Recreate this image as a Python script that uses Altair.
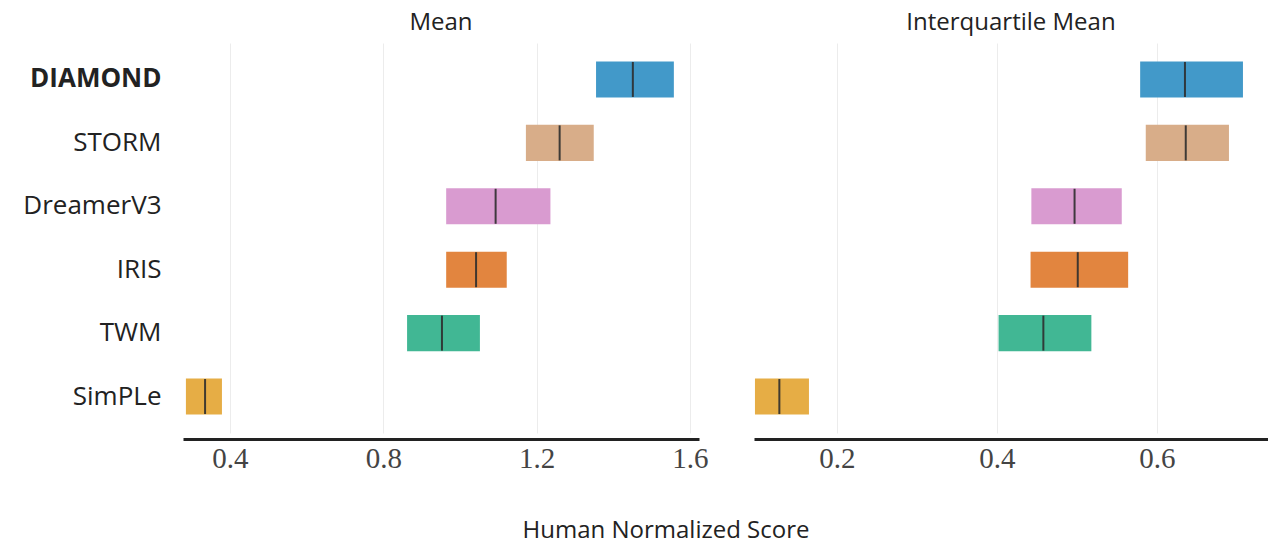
import altair as alt
import pandas as pd

# Methods, top to bottom
methods = ["DIAMOND", "STORM", "DreamerV3", "IRIS", "TWM", "SimPLe"]
colors = ["#4299c9", "#d8ad89", "#d99bd0", "#e2853f", "#41b794", "#e6ad45"]

# Mean human normalized score: 95% CI bounds and point estimate
mean_low = [1.355, 1.172, 0.964, 0.964, 0.862, 0.285]
mean_high = [1.558, 1.349, 1.236, 1.122, 1.052, 0.379]
mean_point = [1.451, 1.260, 1.093, 1.042, 0.953, 0.335]

# Interquartile mean: 95% CI bounds and point estimate
iqm_low = [0.579, 0.586, 0.443, 0.442, 0.402, 0.0975]
iqm_high = [0.7075, 0.690, 0.556, 0.564, 0.518, 0.165]
iqm_point = [0.635, 0.636, 0.497, 0.501, 0.458, 0.128]

mean_ticks = [0.4, 0.8, 1.2, 1.6]
iqm_ticks = [0.2, 0.4, 0.6]

df = pd.DataFrame({
    "method": methods,
    "mean_low": mean_low, "mean_high": mean_high, "mean_point": mean_point,
    "iqm_low": iqm_low, "iqm_high": iqm_high, "iqm_point": iqm_point,
})

SANS = "Open Sans"
SERIF = "Liberation Serif"
W1, W2, H = 516, 514, 390


def panel(prefix, domain, ticks, title, width, show_y):
    if show_y:
        y_axis = alt.Axis(
            title=None, ticks=False, domain=False, grid=False,
            labelFont=SANS, labelFontSize=26, labelColor="#222222",
            labelFontWeight=alt.expr("datum.value == 'DIAMOND' ? 'bold' : 'normal'"),
            labelPadding=22, minExtent=175, maxExtent=175, labelLimit=300,
        )
    else:
        y_axis = None
    y = alt.Y("method:N", sort=methods,
              scale=alt.Scale(domain=methods, paddingInner=0.43, paddingOuter=0.29),
              axis=y_axis)
    x_scale = alt.Scale(domain=domain, nice=False, zero=False)
    x_axis = alt.Axis(
        title=None, values=ticks, ticks=False, format=".1f",
        domainColor="#222222", domainWidth=3, offset=6,
        grid=True, gridColor="#ececec", gridWidth=1,
        labelFont=SERIF, labelFontSize=29, labelColor="#444444", labelPadding=5,
    )
    base = alt.Chart(df)
    bars = base.mark_bar(cornerRadius=0, opacity=1).encode(
        y=y,
        x=alt.X(f"{prefix}_low:Q", scale=x_scale, axis=x_axis),
        x2=f"{prefix}_high:Q",
        color=alt.Color("method:N", scale=alt.Scale(domain=methods, range=colors), legend=None),
    )
    marks = base.mark_tick(color="#2e2e2e", thickness=2, size=35, opacity=0.9).encode(
        y=alt.Y("method:N", sort=methods, scale=alt.Scale(domain=methods)),
        x=alt.X(f"{prefix}_point:Q"),
    )
    return alt.layer(bars, marks).properties(
        width=width, height=H,
        title=alt.TitleParams(title, font=SANS, fontSize=24, fontWeight="normal",
                              color="#222222", anchor="middle", offset=8),
    )


left = panel("mean", [0.2774, 1.6236], mean_ticks, "Mean", W1, True)
right = panel("iqm", [0.0963, 0.7388], iqm_ticks, "Interquartile Mean", W2, False)

chart = alt.hconcat(left, right, spacing=45).properties(
    title=alt.TitleParams("Human Normalized Score", orient="bottom", anchor="middle",
                          font=SANS, fontSize=24, fontWeight="normal", color="#222222",
                          offset=46, dx=28),
    padding={"left": 8, "top": 11, "right": 0, "bottom": 4},
    background="white",
).configure_view(stroke=None)

chart.save("out.html", embed_options={"renderer": "svg", "actions": False})
